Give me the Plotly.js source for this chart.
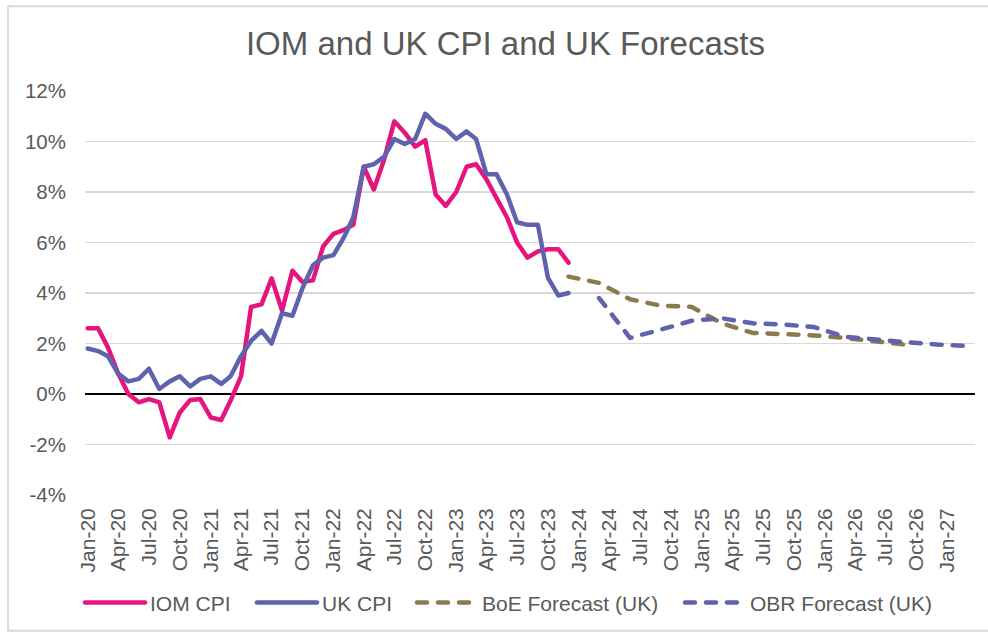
<!DOCTYPE html>
<html>
<head>
<meta charset="utf-8">
<script src="https://cdn.plot.ly/plotly-3.0.1.min.js"></script>
<style>
  html, body { margin: 0; padding: 0; background: #ffffff; }
  #chart { width: 988px; height: 634px; }
  path.js-line { stroke-linecap: round !important; stroke-linejoin: round !important; }
</style>
</head>
<body>
<div id="chart"></div>
<script>
// ---- data ----
const monthDates = [
  '2020-01-01','2020-02-01','2020-03-01','2020-04-01','2020-05-01','2020-06-01',
  '2020-07-01','2020-08-01','2020-09-01','2020-10-01','2020-11-01','2020-12-01',
  '2021-01-01','2021-02-01','2021-03-01','2021-04-01','2021-05-01','2021-06-01',
  '2021-07-01','2021-08-01','2021-09-01','2021-10-01','2021-11-01','2021-12-01',
  '2022-01-01','2022-02-01','2022-03-01','2022-04-01','2022-05-01','2022-06-01',
  '2022-07-01','2022-08-01','2022-09-01','2022-10-01','2022-11-01','2022-12-01',
  '2023-01-01','2023-02-01','2023-03-01','2023-04-01','2023-05-01','2023-06-01',
  '2023-07-01','2023-08-01','2023-09-01','2023-10-01','2023-11-01','2023-12-01'
];
const iomCPI = [
  2.6, 2.6, 1.85, 0.8, 0.0, -0.33, -0.2, -0.33, -1.72, -0.73, -0.24, -0.2,
  -0.93, -1.03, -0.26, 0.7, 3.45, 3.55, 4.58, 3.3, 4.88, 4.44, 4.5, 5.84,
  6.34, 6.5, 6.7, 9.0, 8.1, 9.3, 10.8, 10.35, 9.8, 10.05, 7.9, 7.45,
  8.0, 9.0, 9.1, 8.5, 7.76, 7.0, 6.0, 5.4, 5.65, 5.73, 5.73, 5.2
];
const ukCPI = [
  1.8, 1.7, 1.5, 0.8, 0.5, 0.6, 1.0, 0.2, 0.5, 0.7, 0.3, 0.6,
  0.7, 0.4, 0.7, 1.5, 2.1, 2.5, 2.0, 3.2, 3.1, 4.2, 5.1, 5.4,
  5.5, 6.2, 7.0, 9.0, 9.1, 9.4, 10.1, 9.9, 10.1, 11.1, 10.7, 10.5,
  10.1, 10.4, 10.1, 8.7, 8.7, 7.9, 6.8, 6.7, 6.7, 4.6, 3.9, 4.0
];
const boeDates = ['2023-12-01','2024-03-01','2024-06-01','2024-09-01','2024-12-01','2025-03-01',
                  '2025-06-01','2025-09-01','2025-12-01','2026-03-01','2026-06-01','2026-09-01'];
const boeForecast = [4.65, 4.4, 3.75, 3.5, 3.45, 2.8, 2.42, 2.38, 2.32, 2.22, 2.1, 1.95];
const obrDates = ['2024-03-01','2024-06-01','2024-09-01','2024-12-01','2025-03-01','2025-06-01',
                  '2025-09-01','2025-12-01','2026-03-01','2026-06-01','2026-09-01','2026-12-01','2027-03-01'];
const obrForecast = [3.8, 2.22, 2.55, 2.9, 3.0, 2.8, 2.75, 2.65, 2.27, 2.15, 2.05, 1.96, 1.9];

const xTickDates = [
  '2020-01-01','2020-04-01','2020-07-01','2020-10-01','2021-01-01','2021-04-01','2021-07-01','2021-10-01',
  '2022-01-01','2022-04-01','2022-07-01','2022-10-01','2023-01-01','2023-04-01','2023-07-01','2023-10-01',
  '2024-01-01','2024-04-01','2024-07-01','2024-10-01','2025-01-01','2025-04-01','2025-07-01','2025-10-01',
  '2026-01-01','2026-04-01','2026-07-01','2026-10-01','2027-01-01'
];
const xTickLabels = [
  'Jan-20','Apr-20','Jul-20','Oct-20','Jan-21','Apr-21','Jul-21','Oct-21',
  'Jan-22','Apr-22','Jul-22','Oct-22','Jan-23','Apr-23','Jul-23','Oct-23',
  'Jan-24','Apr-24','Jul-24','Oct-24','Jan-25','Apr-25','Jul-25','Oct-25',
  'Jan-26','Apr-26','Jul-26','Oct-26','Jan-27'
];
const yTickVals = [-4, -2, 0, 2, 4, 6, 8, 10, 12];
const yTickLabels = ['-4%', '-2%', '0%', '2%', '4%', '6%', '8%', '10%', '12%'];

// ---- styling ----
const FONT = 'Liberation Sans, Arial, sans-serif';
const TXT = '#595959';
const PINK = '#E5157D';
const BLUE = '#5F62AC';
const BROWN = '#8B7A4E';

const traces = [
  { x: monthDates, y: iomCPI, name: 'IOM CPI', type: 'scatter', mode: 'lines',
    line: { color: PINK, width: 4.5 }, legend: 'legend' },
  { x: monthDates, y: ukCPI, name: 'UK CPI', type: 'scatter', mode: 'lines',
    line: { color: BLUE, width: 4.5 }, legend: 'legend2' },
  { x: boeDates, y: boeForecast, name: 'BoE Forecast (UK)', type: 'scatter', mode: 'lines',
    line: { color: BROWN, width: 4.5, dash: '10px,11px' }, legend: 'legend3' },
  { x: obrDates, y: obrForecast, name: 'OBR Forecast (UK)', type: 'scatter', mode: 'lines',
    line: { color: BLUE, width: 4.5, dash: '10px,11px' }, legend: 'legend4' }
];

function leg(x) {
  return { orientation: 'h', x: x, xanchor: 'left', y: -0.264, yanchor: 'middle',
           font: { family: FONT, size: 21, color: TXT }, itemwidth: 60,
           bgcolor: 'rgba(0,0,0,0)', borderwidth: 0 };
}

const layout = {
  width: 988, height: 634,
  margin: { l: 85, r: 13, t: 91, b: 138 },
  paper_bgcolor: '#ffffff', plot_bgcolor: '#ffffff',
  font: { family: FONT, color: TXT },
  title: { text: 'IOM and UK CPI and UK Forecasts', font: { family: FONT, size: 33, color: TXT },
           xref: 'container', x: 0.5116, xanchor: 'center', yref: 'container', y: 0.931, yanchor: 'middle' },
  showlegend: true,
  legend: leg(-0.0056),
  legend2: leg(0.1876),
  legend3: leg(0.3674),
  legend4: leg(0.6685),
  xaxis: {
    type: 'date', range: ['2019-12-24', '2027-03-24'],
    tickmode: 'array', tickvals: xTickDates, ticktext: xTickLabels,
    tickangle: -90, tickfont: { family: FONT, size: 21, color: TXT },
    showgrid: false, zeroline: false, showline: false, ticks: '',
    ticklabelstandoff: 8, fixedrange: true
  },
  yaxis: {
    range: [-4, 12], tickmode: 'array', tickvals: yTickVals, ticktext: yTickLabels,
    tickfont: { family: FONT, size: 20.5, color: TXT },
    showgrid: true, gridcolor: '#d9d9d9', gridwidth: 1.5,
    zeroline: true, zerolinecolor: '#000000', zerolinewidth: 1.5,
    showline: false, ticks: '', ticklabelstandoff: 18, fixedrange: true
  },
  shapes: [
    { type: 'rect', xref: 'paper', yref: 'paper', x0: -0.0865, x1: 1.1, y0: -0.3358, y1: 1.2099,
      line: { color: '#d9d9d9', width: 2 }, fillcolor: 'rgba(0,0,0,0)', layer: 'below' }
  ]
};

Plotly.newPlot('chart', traces, layout, { displayModeBar: false, staticPlot: true });
</script>
</body>
</html>
